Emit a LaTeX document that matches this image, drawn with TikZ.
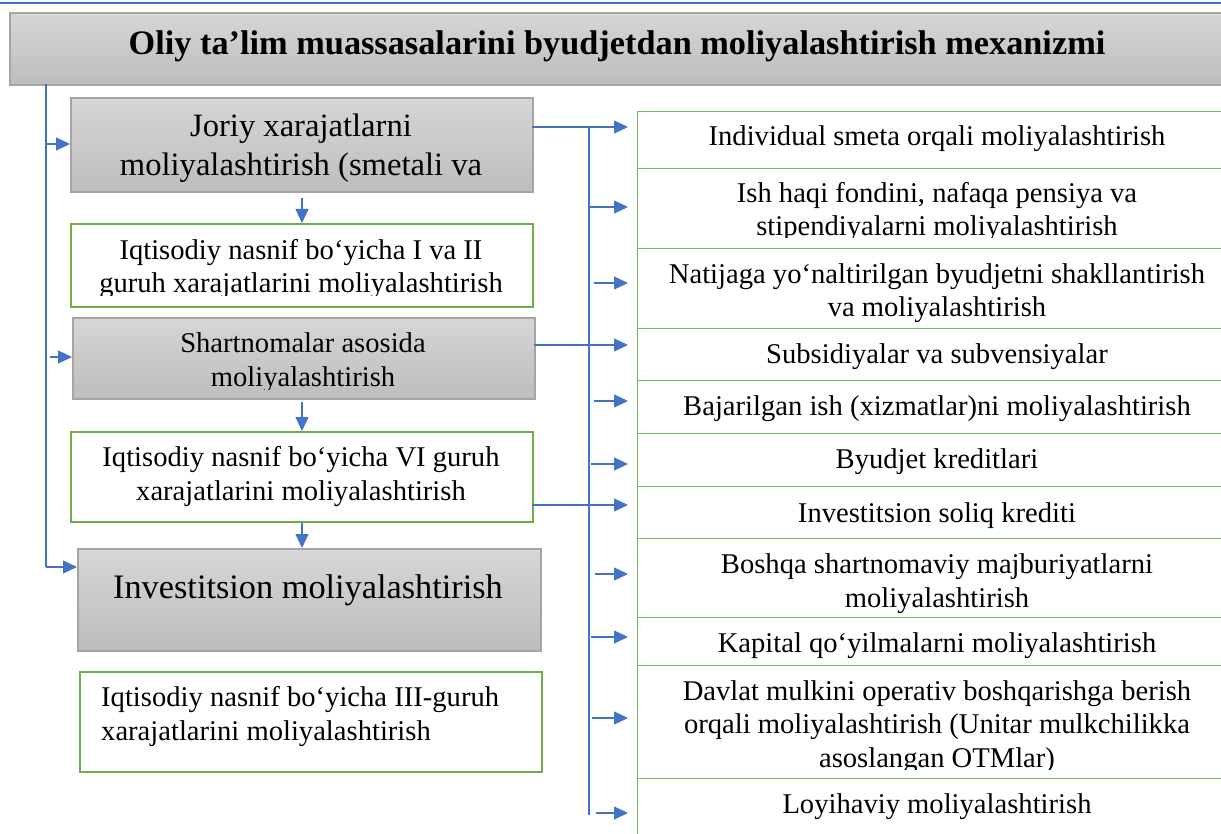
\documentclass[tikz,border=0pt]{standalone}
\usepackage{fontspec}
\setmainfont{Liberation Serif}
\usetikzlibrary{arrows.meta}
\definecolor{bl}{HTML}{4472C4}
\definecolor{gr}{HTML}{70AD47}
\definecolor{grl}{HTML}{7DB957}
\definecolor{gtop}{HTML}{D6D6D6}
\definecolor{gbot}{HTML}{BDBDBD}
\definecolor{gbd}{HTML}{A5A5A5}
\begin{document}
\begin{tikzpicture}[x=1pt,y=-1pt,
  graybox/.style={draw=gbd, line width=2pt, top color=gtop, bottom color=gbot, inner sep=0pt, anchor=north west},
  greenbox/.style={draw=gr, line width=2pt, fill=white, inner sep=0pt, anchor=north west},
  rbox/.style={draw=grl, line width=1.4pt, fill=white, inner sep=0pt, anchor=north west, minimum width=603pt},
  txt/.style={inner sep=0pt, align=center, anchor=base, font=\fontsize{28.6}{33.5}\selectfont},
  conn/.style={draw=bl, line width=1.2pt, -{Triangle[length=14pt,width=13pt]}},
  bus/.style={draw=bl, line width=1.2pt}]
\useasboundingbox (0,0) rectangle (1221,834);
\clip (0,0) rectangle (1221,834);
% top rule
\coordinate (topl) at (0,3);
\coordinate (topr) at (1221,3);
\draw[bl, line width=1.5pt] (topl) -- (topr);
% title
\node[graybox, minimum width=1232pt, minimum height=72pt] (title) at (9,12) {};
\node[inner sep=0pt, anchor=base, font=\fontsize{34.3}{40}\selectfont\bfseries] (tt) at (617,55) {Oliy ta’lim muassasalarini byudjetdan moliyalashtirish mexanizmi};
% left column (multi-line texts are placed by the baseline of their last line)
\node[graybox, minimum width=462pt, minimum height=94pt] (b1) at (70,97) {};
\node[txt, font=\fontsize{32.6}{39}\selectfont] (t1) at (301,176) {Joriy xarajatlarni\\moliyalashtirish (smetali va};
\node[greenbox, minimum width=462pt, minimum height=83pt] (b2) at (70,223) {};
\begin{scope}
\clip (71,224) rectangle (531,296);
\node[txt] (t2) at (301,293) {Iqtisodiy nasnif bo‘yicha I va II\\guruh xarajatlarini moliyalashtirish};
\end{scope}
\node[graybox, minimum width=462pt, minimum height=81pt] (b3) at (72,317) {};
\begin{scope}
\clip (73,318) rectangle (533,389);
\node[txt] (t3) at (303,386) {Shartnomalar asosida\\moliyalashtirish};
\end{scope}
\node[greenbox, minimum width=462pt, minimum height=90pt] (b4) at (70,431) {};
\node[txt] (t4) at (301,500) {Iqtisodiy nasnif bo‘yicha VI guruh\\xarajatlarini moliyalashtirish};
\node[graybox, minimum width=463pt, minimum height=102pt] (b5) at (77,548) {};
\node[txt, font=\fontsize{34.3}{40}\selectfont] (t5) at (308,598) {Investitsion moliyalashtirish};
\node[greenbox, minimum width=462pt, minimum height=100pt] (b6) at (79,671) {};
\node[txt, align=left, anchor=base west] (t6) at (101,740) {Iqtisodiy nasnif bo‘yicha III-guruh\\xarajatlarini moliyalashtirish};
% right column
\node[rbox, minimum height=57pt] (r1) at (637,111) {};
\node[txt] (tr1) at (937,146) {Individual smeta orqali moliyalashtirish};
\node[rbox, minimum height=80pt] (r2) at (637,168) {};
\begin{scope}
\clip (638,169) rectangle (1221,238);
\node[txt] (tr2) at (937,236) {Ish haqi fondini, nafaqa pensiya va\\stipendiyalarni moliyalashtirish};
\end{scope}
\node[rbox, minimum height=80pt] (r3) at (637,248) {};
\node[txt] (tr3) at (937,317) {Natijaga yo‘naltirilgan byudjetni shakllantirish\\va moliyalashtirish};
\node[rbox, minimum height=52pt] (r4) at (637,328) {};
\node[txt] (tr4) at (937,363) {Subsidiyalar va subvensiyalar};
\node[rbox, minimum height=53pt] (r5) at (637,380) {};
\node[txt] (tr5) at (937,415) {Bajarilgan ish (xizmatlar)ni moliyalashtirish};
\node[rbox, minimum height=53pt] (r6) at (637,433) {};
\node[txt] (tr6) at (937,468) {Byudjet kreditlari};
\node[rbox, minimum height=52pt] (r7) at (637,486) {};
\node[txt] (tr7) at (937,522) {Investitsion soliq krediti};
\node[rbox, minimum height=79pt] (r8) at (637,538) {};
\node[txt] (tr8) at (937,607) {Boshqa shartnomaviy majburiyatlarni\\moliyalashtirish};
\node[rbox, minimum height=48pt] (r9) at (637,617) {};
\node[txt] (tr9) at (937,652) {Kapital qo‘yilmalarni moliyalashtirish};
\node[rbox, minimum height=113pt] (r10) at (637,665) {};
\begin{scope}
\clip (638,666) rectangle (1221,769);
\node[txt] (tr10) at (937,767) {Davlat mulkini operativ boshqarishga berish\\orqali moliyalashtirish (Unitar mulkchilikka\\asoslangan OTMlar)};
\end{scope}
\node[rbox, minimum height=70pt] (r11) at (637,778) {};
\node[txt] (tr11) at (937,813) {Loyihaviy moliyalashtirish};
% left bus
\coordinate (lbtop) at (46,84);
\coordinate (lb1) at (46,144);
\coordinate (lb3) at (50,357);
\coordinate (lb5) at (46,567);
\draw[bus] (lbtop) -- (lb5);
\draw[conn] (lb1) -- (lb1 -| b1.west);
\draw[conn] (lb3) -- (lb3 -| b3.west);
\draw[conn] (lb5) -- (lb5 -| b5.west);
% down arrows
\draw[conn, shorten <=5pt] (b1.south) -- (b2.north);
\draw[conn, shorten <=2pt] (b4.north |- b3.south) -- (b4.north);
\draw[conn] (b4.south) -- (b4.south |- b5.north);
% right bus
\coordinate (rbtop) at (589,127);
\coordinate (rbbot) at (589,815);
\draw[bus] (rbtop) -- (rbbot);
\coordinate (c1) at (532,127);
\coordinate (c4) at (534,345);
\coordinate (c7) at (532,505);
\coordinate (rb2) at (589,207);
\coordinate (rb3) at (594,283);
\coordinate (rb5) at (594,401);
\coordinate (rb6) at (591,464);
\coordinate (rb8) at (595,574);
\coordinate (rb9) at (591,637);
\coordinate (rb10) at (592,718);
\coordinate (rb11) at (596,813);
\tikzset{rconn/.style={conn, shorten >=9pt}}
\draw[rconn] (c1) -- (c1 -| r1.west);
\draw[rconn] (rb2) -- (rb2 -| r2.west);
\draw[rconn] (rb3) -- (rb3 -| r3.west);
\draw[rconn] (c4) -- (c4 -| r4.west);
\draw[rconn] (rb5) -- (rb5 -| r5.west);
\draw[rconn] (rb6) -- (rb6 -| r6.west);
\draw[rconn] (c7) -- (c7 -| r7.west);
\draw[rconn] (rb8) -- (rb8 -| r8.west);
\draw[rconn] (rb9) -- (rb9 -| r9.west);
\draw[rconn] (rb10) -- (rb10 -| r10.west);
\draw[rconn] (rb11) -- (rb11 -| r11.west);
\end{tikzpicture}
\end{document}
